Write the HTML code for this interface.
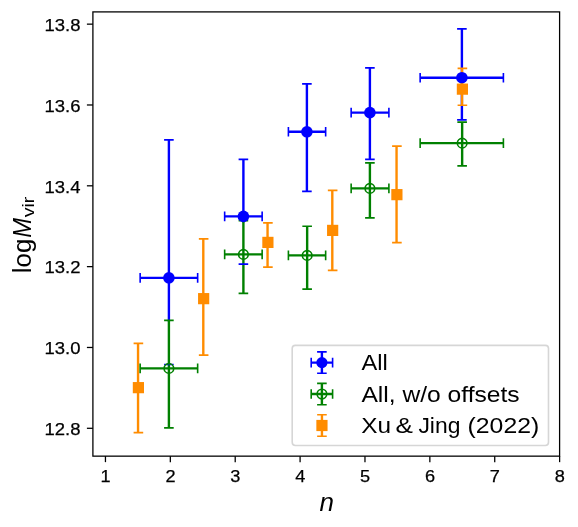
<!DOCTYPE html>
<html><head><meta charset="utf-8"><title>chart</title>
<style>html,body{margin:0;padding:0;background:#fff}svg{display:block;filter:blur(0.35px)}</style></head>
<body>
<svg width="578" height="527" viewBox="0 0 578 527">
<rect width="578" height="527" fill="#fff"/>
<g transform="translate(0.15,0.4)"><g stroke="#0000ff" stroke-width="2.4" fill="none"><path d="M140 277.5H197.5M168.75 139.5V321"/><path d="M224.5 216H262M243.25 159V222"/><path d="M288.25 131.4H325.5M306.75 83.5V191"/><path d="M351 112.25H388.75M369.75 67.5V159"/><path d="M420 77.3H503.25M461.75 28.5V119.5"/></g>
<g stroke="#008000" stroke-width="2.4" fill="none"><path d="M140 368H197.5M168.75 320V427.5"/><path d="M224.5 254H262M243.25 220.2V293"/><path d="M288.25 255H325.5M307 225.8V288.75"/><path d="M351 188H388.75M369.75 162.5V217.5"/><path d="M420 142.75H503.25M462 121.75V165.5"/></g>
<g stroke="#ff8c00" stroke-width="2.4" fill="none"><path d="M137.9 343V432.25"/><path d="M203.15 238.5V354.75"/><path d="M267.4 222.5V266.75"/><path d="M332.15 190V270"/><path d="M396.4 145.75V242.25"/><path d="M461.9 68.0V104.8"/></g>
<g stroke="#0000ff" stroke-width="1.6" fill="none"><path d="M140 272.7V282.3M197.5 272.7V282.3M163.95 139.5H173.55M163.95 364.1H173.55"/><path d="M224.5 211.2V220.8M262 211.2V220.8M238.45 159H248.05M238.45 263.75H248.05"/><path d="M288.25 126.60000000000001V136.20000000000002M325.5 126.60000000000001V136.20000000000002M301.95 83.5H311.55M301.95 191H311.55"/><path d="M351 107.45V117.05M388.75 107.45V117.05M364.95 67.5H374.55M364.95 159H374.55"/><path d="M420 72.5V82.1M503.25 72.5V82.1M456.95 28.5H466.55M456.95 119.5H466.55"/></g>
<g stroke="#008000" stroke-width="1.6" fill="none"><path d="M140 363.2V372.8M197.5 363.2V372.8M163.95 320H173.55M163.95 427.5H173.55"/><path d="M224.5 249.2V258.8M262 249.2V258.8M238.45 220.2H248.05M238.45 293H248.05"/><path d="M288.25 250.2V259.8M325.5 250.2V259.8M302.2 225.8H311.8M302.2 288.75H311.8"/><path d="M351 183.2V192.8M388.75 183.2V192.8M364.95 162.5H374.55M364.95 217.5H374.55"/><path d="M420 137.95V147.55M503.25 137.95V147.55M457.2 121.75H466.8M457.2 165.5H466.8"/></g>
<g stroke="#ff8c00" stroke-width="1.6" fill="none"><path d="M133.45 343H143.05M133.45 432.25H143.05"/><path d="M198.7 238.5H208.3M198.7 354.75H208.3"/><path d="M262.95 222.5H272.55M262.95 266.75H272.55"/><path d="M327.7 190H337.3M327.7 270H337.3"/><path d="M391.95 145.75H401.55M391.95 242.25H401.55"/><path d="M457.45 68.0H467.05M457.45 104.8H467.05"/></g>
<g fill="#0000ff"><circle cx="168.75" cy="277.5" r="5.8"/><circle cx="243.25" cy="216" r="5.8"/><circle cx="306.75" cy="131.4" r="5.8"/><circle cx="369.75" cy="112.25" r="5.8"/><circle cx="461.75" cy="77.3" r="5.8"/></g>
<g fill="none" stroke="#008000" stroke-width="1.6"><circle cx="168.75" cy="368" r="4.8"/><circle cx="243.25" cy="254" r="4.8"/><circle cx="307" cy="255" r="4.8"/><circle cx="369.75" cy="188" r="4.8"/><circle cx="462" cy="142.75" r="4.8"/></g>
<g fill="#ff8c00"><rect x="132.65" y="381.65" width="11.2" height="11.2"/><rect x="197.9" y="292.65" width="11.2" height="11.2"/><rect x="262.15" y="236.4" width="11.2" height="11.2"/><rect x="326.9" y="224.4" width="11.2" height="11.2"/><rect x="391.15" y="188.65" width="11.2" height="11.2"/><rect x="456.65" y="83.15" width="11.2" height="11.2"/></g></g>
<rect x="92.9" y="11.9" width="466.70000000000005" height="444.25" fill="none" stroke="#000" stroke-width="1.28"/>
<g stroke="#000" stroke-width="1.28"><path d="M105.45 456.15v6"/><path d="M170.33 456.15v6"/><path d="M235.21 456.15v6"/><path d="M300.09 456.15v6"/><path d="M364.97 456.15v6"/><path d="M429.85 456.15v6"/><path d="M494.73 456.15v6"/><path d="M559.61 456.15v6"/><path d="M92.9 24.15h-6"/><path d="M92.9 104.98h-6"/><path d="M92.9 185.81h-6"/><path d="M92.9 266.64h-6"/><path d="M92.9 347.47h-6"/><path d="M92.9 428.30h-6"/></g>
<g font-family="Liberation Sans, sans-serif" font-size="17.4" fill="#000" stroke="#000" stroke-width="0.25"><text x="105.65" y="482.1" text-anchor="middle" textLength="10.1" lengthAdjust="spacingAndGlyphs">1</text><text x="170.53" y="482.1" text-anchor="middle" textLength="10.1" lengthAdjust="spacingAndGlyphs">2</text><text x="235.41" y="482.1" text-anchor="middle" textLength="10.1" lengthAdjust="spacingAndGlyphs">3</text><text x="300.29" y="482.1" text-anchor="middle" textLength="10.1" lengthAdjust="spacingAndGlyphs">4</text><text x="365.17" y="482.1" text-anchor="middle" textLength="10.1" lengthAdjust="spacingAndGlyphs">5</text><text x="430.05" y="482.1" text-anchor="middle" textLength="10.1" lengthAdjust="spacingAndGlyphs">6</text><text x="494.93" y="482.1" text-anchor="middle" textLength="10.1" lengthAdjust="spacingAndGlyphs">7</text><text x="559.81" y="482.1" text-anchor="middle" textLength="10.1" lengthAdjust="spacingAndGlyphs">8</text><text x="80.5" y="30.85" text-anchor="end" textLength="36" lengthAdjust="spacingAndGlyphs">13.8</text><text x="80.5" y="111.68" text-anchor="end" textLength="36" lengthAdjust="spacingAndGlyphs">13.6</text><text x="80.5" y="192.51" text-anchor="end" textLength="36" lengthAdjust="spacingAndGlyphs">13.4</text><text x="80.5" y="273.34" text-anchor="end" textLength="36" lengthAdjust="spacingAndGlyphs">13.2</text><text x="80.5" y="354.17" text-anchor="end" textLength="36" lengthAdjust="spacingAndGlyphs">13.0</text><text x="80.5" y="435.00" text-anchor="end" textLength="36" lengthAdjust="spacingAndGlyphs">12.8</text></g>
<text x="326.8" y="510.5" text-anchor="middle" font-family="Liberation Sans, sans-serif" font-style="italic" font-size="26">n</text>
<g transform="translate(30.7,271.5) rotate(-90)" font-family="Liberation Sans, sans-serif" fill="#000"><text x="-1.7" y="0" font-size="25" textLength="34.5" lengthAdjust="spacingAndGlyphs">log</text><text x="33.7" y="0" font-size="25.6" font-style="italic" textLength="19.7" lengthAdjust="spacingAndGlyphs">M</text><text x="54.2" y="3.6" font-size="17.2" textLength="20.6" lengthAdjust="spacingAndGlyphs">vir</text></g>
<rect x="292.2" y="345.35" width="256.3" height="100.2" rx="3.2" ry="3.2" fill="#fff" fill-opacity="0.8" stroke="#ccc" stroke-opacity="0.8" stroke-width="1.6"/><g stroke="#0000ff" fill="none"><path stroke-width="2.4" d="M311.2 362.6H332.59999999999997M321.9 351.90000000000003V373.3"/><path stroke-width="1.6" d="M311.2 357.8V367.40000000000003M332.59999999999997 357.8V367.40000000000003M317.09999999999997 351.90000000000003H326.7M317.09999999999997 373.3H326.7"/></g><circle cx="321.9" cy="362.6" r="5.6" fill="#0000ff"/><g stroke="#008000" fill="none"><path stroke-width="2.4" d="M311.2 394.05H332.59999999999997M321.9 383.35V404.75"/><path stroke-width="1.6" d="M311.2 389.25V398.85M332.59999999999997 389.25V398.85M317.09999999999997 383.35H326.7M317.09999999999997 404.75H326.7"/></g><circle cx="321.9" cy="394.05" r="4.8" fill="none" stroke="#008000" stroke-width="1.6"/><g stroke="#ff8c00" fill="none"><path stroke-width="2.4" d="M321.95 414.8V436.2"/><path stroke-width="1.6" d="M317.15 414.8H326.75M317.15 436.2H326.75"/></g><rect x="316.34999999999997" y="419.9" width="11.2" height="11.2" fill="#ff8c00"/><g font-family="Liberation Sans, sans-serif" font-size="22.3" fill="#000"><text x="361.4" y="370.4" textLength="26.3" lengthAdjust="spacingAndGlyphs">All</text><text x="361.4" y="401.9" textLength="158.3" lengthAdjust="spacingAndGlyphs">All, w/o offsets</text><text x="361.3" y="433.4" textLength="29.8" lengthAdjust="spacingAndGlyphs">Xu</text><text x="395.6" y="433.4" textLength="17.4" lengthAdjust="spacingAndGlyphs">&amp;</text><text x="418.4" y="433.4" textLength="42" lengthAdjust="spacingAndGlyphs">Jing</text><text x="467.6" y="433.4" textLength="71.6" lengthAdjust="spacingAndGlyphs">(2022)</text></g>
</svg>
</body></html>
